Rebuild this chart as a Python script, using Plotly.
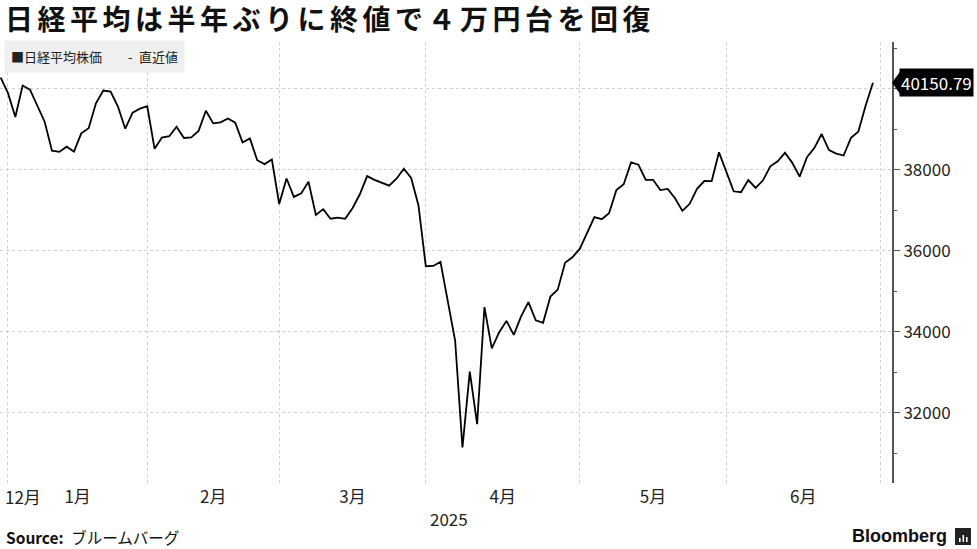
import numpy as np
import plotly.graph_objects as go

# ---- data (Nikkei 225 daily closes, trading days) ----
dates = [
    "2024-12-27", "2024-12-30",
    "2025-01-06", "2025-01-07", "2025-01-08", "2025-01-09", "2025-01-10", "2025-01-14", "2025-01-15",
    "2025-01-16", "2025-01-17", "2025-01-20", "2025-01-21", "2025-01-22", "2025-01-23", "2025-01-24",
    "2025-01-27", "2025-01-28", "2025-01-29", "2025-01-30", "2025-01-31",
    "2025-02-03", "2025-02-04", "2025-02-05", "2025-02-06", "2025-02-07", "2025-02-10", "2025-02-12",
    "2025-02-13", "2025-02-14", "2025-02-17", "2025-02-18", "2025-02-19", "2025-02-20", "2025-02-21",
    "2025-02-25", "2025-02-26", "2025-02-27", "2025-02-28",
    "2025-03-03", "2025-03-04", "2025-03-05", "2025-03-06", "2025-03-07", "2025-03-10", "2025-03-11",
    "2025-03-12", "2025-03-13", "2025-03-14", "2025-03-17", "2025-03-18", "2025-03-19", "2025-03-21",
    "2025-03-24", "2025-03-25", "2025-03-26", "2025-03-27", "2025-03-28", "2025-03-31",
    "2025-04-01", "2025-04-02", "2025-04-03", "2025-04-04", "2025-04-07", "2025-04-08", "2025-04-09",
    "2025-04-10", "2025-04-11", "2025-04-14", "2025-04-15", "2025-04-16", "2025-04-17", "2025-04-18",
    "2025-04-21", "2025-04-22", "2025-04-23", "2025-04-24", "2025-04-25", "2025-04-28", "2025-04-30",
    "2025-05-01", "2025-05-02", "2025-05-07", "2025-05-08", "2025-05-09", "2025-05-12", "2025-05-13",
    "2025-05-14", "2025-05-15", "2025-05-16", "2025-05-19", "2025-05-20", "2025-05-21", "2025-05-22",
    "2025-05-23", "2025-05-26", "2025-05-27", "2025-05-28", "2025-05-29", "2025-05-30",
    "2025-06-02", "2025-06-03", "2025-06-04", "2025-06-05", "2025-06-06", "2025-06-09", "2025-06-10",
    "2025-06-11", "2025-06-12", "2025-06-13", "2025-06-16", "2025-06-17", "2025-06-18", "2025-06-19",
    "2025-06-20", "2025-06-23", "2025-06-24", "2025-06-25", "2025-06-26", "2025-06-27",
]
nikkei_close = [
    40281.16, 39894.54,
    39307.05, 40083.30, 39981.06, 39605.09, 39190.40, 38474.30, 38444.58,
    38572.60, 38451.46, 38902.50, 39027.98, 39646.25, 39958.87, 39931.98,
    39565.80, 39016.87, 39414.78, 39513.97, 39572.49,
    38520.09, 38798.37, 38831.48, 39066.53, 38787.02, 38801.17, 38963.70,
    39461.47, 39149.43, 39174.25, 39270.40, 39164.61, 38678.04, 38776.94,
    38237.79, 38142.37, 38256.17, 37155.50,
    37785.47, 37331.18, 37418.24, 37704.93, 36887.17, 37028.27, 36793.11,
    36819.09, 36790.03, 37053.10, 37396.52, 37845.42, 37751.88, 37677.06,
    37608.49, 37780.54, 38027.29, 37799.97, 37120.33, 35617.56,
    35624.48, 35725.87, 34735.93, 33780.58, 31136.58, 33012.58, 31714.03,
    34609.00, 33585.58, 33982.36, 34267.54, 33920.40, 34377.60, 34730.28,
    34279.92, 34220.60, 34868.63, 35039.15, 35705.74, 35839.99, 36045.38,
    36452.30, 36830.69, 36779.66, 36928.63, 37503.33, 37644.26, 38183.26,
    38128.13, 37755.51, 37753.72, 37498.63, 37529.49, 37298.98, 36985.87,
    37160.47, 37531.53, 37724.11, 37722.40, 38432.98, 37965.10,
    37470.67, 37446.81, 37747.45, 37554.49, 37741.61, 38088.57, 38211.51,
    38421.19, 38173.09, 37834.25, 38311.33, 38536.74, 38885.15, 38488.34,
    38403.23, 38354.09, 38790.56, 38942.07, 39584.58, 40150.79,
]
month_labels = ["1月", "2月", "3月", "4月", "5月", "6月"]
first_month_label = "12月"
year_label = "2025"
y_tickvals = [32000, 34000, 36000, 38000, 40000]
y_ticktext = ["32000", "34000", "36000", "38000", "40000"]
last_value_label = "40150.79"

title_text = ('<span style="letter-spacing:4.5px"><b>'
              "日経平均は半年ぶりに終値で４万円台を回復</b></span>")
legend_text = "■日経平均株価\u2003\u2003-\u2002直近値"
source_text = "<b>Source:</b>\u2002ブルームバーグ"

# ---- trading-day axis ----
x = np.arange(len(dates))
months = [d[:7] for d in dates]
# boundaries = last trading day of each month (plus one step past the final day)
boundaries = [i for i in range(len(months) - 1) if months[i] != months[i + 1]]
boundaries.append(len(dates))
label_pos = [(boundaries[k] + boundaries[k + 1]) / 2 for k in range(len(boundaries) - 1)]

FONT = "Noto Sans CJK JP"
W, H = 977, 549
ML, MR, MT, MB = 0, 85, 42, 66
PW, PH = W - ML - MR, H - MT - MB

x_range = [-0.09, 121.6]
y_range = [30260, 41160]


def px_x(p):
    return (p - ML) / PW


def px_y(p):
    return (H - MB - p) / PH


fig = go.Figure()
fig.add_trace(go.Scatter(
    x=x, y=nikkei_close, mode="lines",
    line=dict(color="#000000", width=1.8),
    text=dates, hoverinfo="text+y", showlegend=False,
))

fig.update_layout(
    width=W, height=H,
    margin=dict(l=ML, r=MR, t=MT, b=MB),
    paper_bgcolor="white", plot_bgcolor="white",
    font=dict(family=FONT, color="#222222", size=17),
    title=dict(text=title_text, x=5 / W, xanchor="left", xref="container",
               y=1 - 20 / H, yanchor="middle", yref="container",
               font=dict(family=FONT, size=28, color="#111111")),
    showlegend=False,
    hovermode=False,
)

fig.update_xaxes(
    range=x_range, showline=False, zeroline=False,
    tickmode="array", tickvals=label_pos, ticktext=month_labels,
    ticks="", showgrid=False, ticklabelstandoff=2,
    tickfont=dict(family=FONT, size=17, color="#222222"),
    minor=dict(tickmode="array", tickvals=boundaries, showgrid=True,
               gridcolor="#cfcfcf", griddash="dot", gridwidth=1, ticks=""),
)

fig.update_yaxes(
    range=y_range, side="right", zeroline=False,
    showline=True, linecolor="#555555", linewidth=2,
    tickmode="array", tickvals=y_tickvals, ticktext=y_ticktext,
    ticks="outside", ticklen=6, tickcolor="#555555", tickwidth=1,
    showgrid=True, gridcolor="#cfcfcf", griddash="dot", gridwidth=1,
    tickfont=dict(family=FONT, size=17, color="#222222"),
    minor=dict(dtick=1000, tick0=0, ticks="outside", ticklen=3,
               tickcolor="#555555", showgrid=False),
)

annotations = [
    # legend box
    dict(text=legend_text, xref="paper", yref="paper", x=px_x(4), y=px_y(56),
         xanchor="left", yanchor="middle", showarrow=False,
         font=dict(family=FONT, size=13, color="#222222"),
         bgcolor="#efefef", borderpad=6),
    # first (partial) month label
    dict(text=first_month_label, xref="paper", yref="paper", x=px_x(3), y=px_y(497),
         xanchor="left", yanchor="middle", showarrow=False,
         font=dict(family=FONT, size=17, color="#222222")),
    # year label
    dict(text=year_label, xref="paper", yref="paper", x=px_x(449), y=px_y(518),
         xanchor="center", yanchor="middle", showarrow=False,
         font=dict(family=FONT, size=17, color="#222222")),
    # last value tag
    dict(text=last_value_label, xref="paper", yref="y", x=px_x(899), y=nikkei_close[-1],
         xanchor="left", yanchor="middle", showarrow=False,
         font=dict(family=FONT, size=17, color="#ffffff"),
         bgcolor="#000000", borderpad=1),
    # source
    dict(text=source_text, xref="paper", yref="paper", x=px_x(4), y=px_y(537),
         xanchor="left", yanchor="middle", showarrow=False,
         font=dict(family=FONT, size=15.5, color="#111111")),
    # Bloomberg wordmark
    dict(text="<b>Bloomberg</b>", xref="paper", yref="paper", x=px_x(949), y=px_y(536),
         xanchor="right", yanchor="middle", showarrow=False,
         font=dict(family="Liberation Sans", size=18, color="#111111")),
]
fig.update_layout(annotations=annotations)

# tag pointer triangle
dy = (y_range[1] - y_range[0]) / PH * 11
shapes = [
    dict(type="path", xref="paper", yref="y",
         path=(f"M {px_x(892)} {nikkei_close[-1]} L {px_x(900)} {nikkei_close[-1] + dy} "
               f"L {px_x(900)} {nikkei_close[-1] - dy} Z"),
         fillcolor="#000000", line=dict(width=0)),
    # Bloomberg icon
    dict(type="rect", xref="paper", yref="paper",
         x0=px_x(955), x1=px_x(971), y0=px_y(545), y1=px_y(528),
         fillcolor="#222222", line=dict(width=0)),
]
for bx, btop in [(959, 538), (962.5, 535), (966, 537)]:
    shapes.append(dict(type="rect", xref="paper", yref="paper",
                       x0=px_x(bx), x1=px_x(bx + 1.6), y0=px_y(542), y1=px_y(btop),
                       fillcolor="#ffffff", line=dict(width=0)))
fig.update_layout(shapes=shapes)

fig.write_html("out.html",
               config={"displayModeBar": False, "staticPlot": True},
               post_script="document.body.style.margin='0';document.body.style.overflow='hidden';")
